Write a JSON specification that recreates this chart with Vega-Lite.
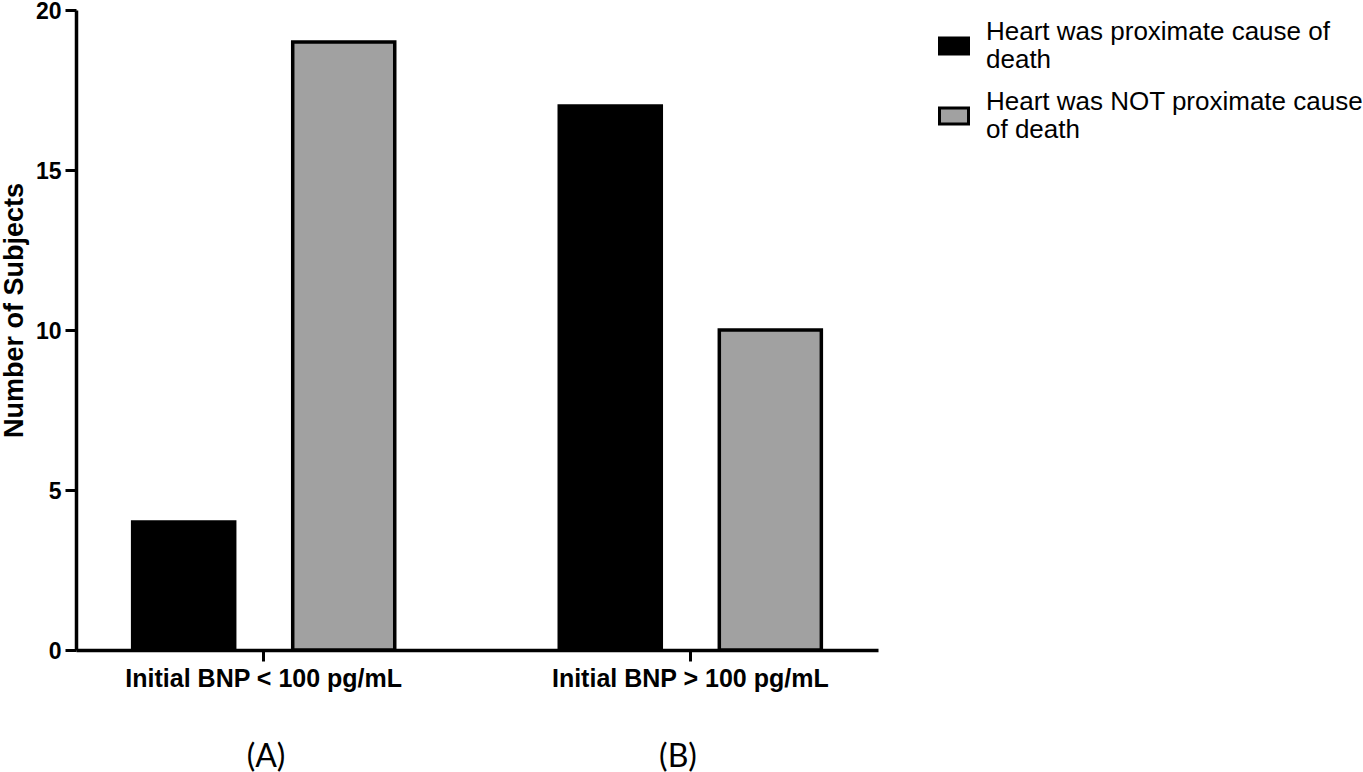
{
  "$schema": "https://vega.github.io/schema/vega-lite/v6.json",
  "width": 802,
  "height": 640,
  "padding": {"left": 0, "top": 0, "right": 0, "bottom": 0},
  "background": "white",
  "config": {"view": {"stroke": null}, "font": "Liberation Sans"},
  "data": {
    "values": [
      {"group": "Initial BNP < 100 pg/mL", "panel": "(A)", "cause": "Heart was proximate cause of death", "n": 4},
      {"group": "Initial BNP < 100 pg/mL", "panel": "(A)", "cause": "Heart was NOT proximate cause of death", "n": 19},
      {"group": "Initial BNP > 100 pg/mL", "panel": "(B)", "cause": "Heart was proximate cause of death", "n": 17},
      {"group": "Initial BNP > 100 pg/mL", "panel": "(B)", "cause": "Heart was NOT proximate cause of death", "n": 10}
    ]
  },
  "layer": [
    {
      "mark": {"type": "bar", "stroke": "black", "strokeWidth": 3.5},
      "encoding": {
        "x": {
          "field": "group",
          "type": "nominal",
          "sort": ["Initial BNP < 100 pg/mL", "Initial BNP > 100 pg/mL"],
          "scale": {"paddingInner": 0.12, "paddingOuter": 0},
          "axis": {
            "title": null,
            "labelAngle": 0,
            "labelFontSize": 25,
            "labelFontWeight": "bold",
            "labelColor": "black",
            "labelPadding": 5,
            "labelLimit": 0,
            "tickSize": 11,
            "tickWidth": 3,
            "tickColor": "black",
            "domainColor": "black",
            "domainWidth": 3.5
          }
        },
        "xOffset": {
          "field": "cause",
          "type": "nominal",
          "sort": ["Heart was proximate cause of death", "Heart was NOT proximate cause of death"],
          "scale": {"paddingInner": 0.3625, "paddingOuter": 0.354}
        },
        "y": {
          "field": "n",
          "type": "quantitative",
          "scale": {"domain": [0, 20], "nice": false},
          "axis": {
            "title": "Number of Subjects",
            "titleFontSize": 27,
            "titleFontWeight": "bold",
            "titleColor": "black",
            "titlePadding": 7,
            "titleY": 300,
            "values": [0, 5, 10, 15, 20],
            "labelFontSize": 23,
            "labelFontWeight": "bold",
            "labelColor": "black",
            "labelPadding": 4,
            "labelOffset": 1.5,
            "tickSize": 11,
            "tickWidth": 3,
            "tickColor": "black",
            "domainColor": "black",
            "domainWidth": 3.5,
            "grid": false
          }
        },
        "color": {
          "field": "cause",
          "type": "nominal",
          "scale": {
            "domain": ["Heart was proximate cause of death", "Heart was NOT proximate cause of death"],
            "range": ["#000000", "#a1a1a1"]
          },
          "legend": {
            "title": null,
            "orient": "none",
            "legendX": 862,
            "legendY": 20,
            "padding": 0,
            "labelFont": "Liberation Sans",
            "labelFontSize": 26,
            "labelColor": "black",
            "labelLimit": 0,
            "labelOffset": 16,
            "labelBaseline": "line-bottom",
            "rowPadding": 16,
            "symbolType": "M-1,-0.55H1V0.55H-1Z",
            "symbolSize": 841,
            "symbolStrokeColor": "black",
            "symbolStrokeWidth": 3,
            "symbolOpacity": 1,
            "labelExpr": "datum.label == 'Heart was proximate cause of death' ? ['Heart was proximate cause of', 'death'] : ['Heart was NOT proximate cause', 'of death']"
          }
        }
      }
    },
    {
      "mark": {"type": "rule", "opacity": 0},
      "encoding": {
        "x": {
          "field": "panel",
          "type": "nominal",
          "sort": ["(A)", "(B)"],
          "scale": {"paddingInner": 0.1, "paddingOuter": 0.0233, "align": 0.24},
          "axis": {
            "orient": "bottom",
            "offset": 89,
            "title": null,
            "domain": false,
            "ticks": false,
            "labelAngle": 0,
            "labelFont": "Lato",
            "labelFontSize": 32,
            "labelFontWeight": "normal",
            "labelColor": "black"
          }
        }
      }
    }
  ],
  "resolve": {"scale": {"x": "independent"}, "axis": {"x": "independent"}}
}
